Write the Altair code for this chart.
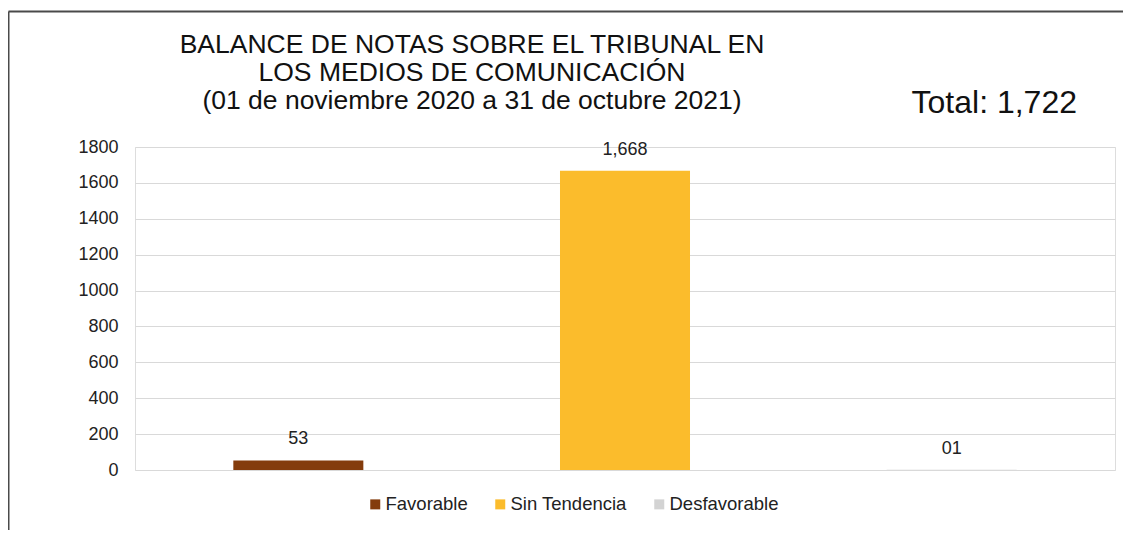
import altair as alt
import pandas as pd

categories = ["Favorable", "Sin Tendencia", "Desfavorable"]
values = [53, 1668, 1]
labels = ["53", "1,668", "01"]
colors = ["#843C0C", "#FBBC2C", "#D3D3D3"]
title_lines = ["BALANCE DE NOTAS SOBRE EL TRIBUNAL EN",
               "LOS MEDIOS DE COMUNICACIÓN",
               "(01 de noviembre 2020 a 31 de octubre 2021)"]
total_text = ["Total: 1,722"]
y_ticks = [0, 200, 400, 600, 800, 1000, 1200, 1400, 1600, 1800]

df = pd.DataFrame({"cat": categories, "val": values, "lab": labels})

FONT = "Liberation Sans"
TXT = "#222222"

x_enc = alt.X("cat:N", sort=categories, title=None,
              scale=alt.Scale(paddingInner=0.602, paddingOuter=0.301),
              axis=alt.Axis(labels=False, ticks=False, domain=False, grid=False))
y_enc = alt.Y("val:Q", title=None,
              scale=alt.Scale(domain=[0, 1800], nice=False),
              axis=alt.Axis(values=y_ticks, format="d", labelOverlap=False,
                            ticks=False, domain=False, grid=True,
                            gridColor="#D9D9D9", gridWidth=1.2,
                            labelFont=FONT, labelFontSize=18, labelColor=TXT,
                            labelPadding=17))

bars = alt.Chart(df).mark_bar().encode(
    x=x_enc,
    y=y_enc,
    color=alt.Color("cat:N", sort=categories,
                    scale=alt.Scale(domain=categories, range=colors),
                    legend=alt.Legend(title=None, orient="none", direction="horizontal",
                                      legendX=231, legendY=348,
                                      symbolType="square", symbolSize=100,
                                      symbolStrokeWidth=0, labelOffset=1,
                                      labelFont=FONT, labelFontSize=18.5, labelColor=TXT,
                                      columnPadding=23)),
)

text = alt.Chart(df).mark_text(dy=-16, baseline="alphabetic", font=FONT,
                               fontSize=18, color=TXT).encode(
    x=x_enc,
    y=y_enc,
    text="lab:N",
)

title = alt.Chart(pd.DataFrame({"t": ["\n".join(title_lines)]})).mark_text(
    font=FONT, fontSize=26.5, color="#111111", align="center", baseline="alphabetic",
    lineBreak="\n", lineHeight=28
).encode(x=alt.value(337), y=alt.value(-94), text="t:N")

total = alt.Chart(pd.DataFrame({"t": total_text})).mark_text(
    font=FONT, fontSize=32, color="#111111", align="right", baseline="alphabetic"
).encode(x=alt.value(942), y=alt.value(-34), text="t:N")

frame_df = pd.DataFrame({"k": [0]})
frame_top = alt.Chart(frame_df).mark_rule(color="#4A4A4A", strokeWidth=2).encode(
    x=alt.value(-126.5), x2=alt.value(1000), y=alt.value(-135.5))
frame_left = alt.Chart(frame_df).mark_rule(color="#4A4A4A", strokeWidth=2).encode(
    x=alt.value(-126.5), y=alt.value(-135.5), y2=alt.value(400))

chart = alt.layer(frame_top, frame_left, bars, text, title, total).properties(
    width=980, height=323,
    autosize=alt.AutoSizeParams(type="none"),
    padding={"left": 127, "top": 139, "right": 8, "bottom": 60},
).configure_view(strokeWidth=0).configure(background="white")

chart.save("out.html", embed_options={"renderer": "svg", "actions": False})
